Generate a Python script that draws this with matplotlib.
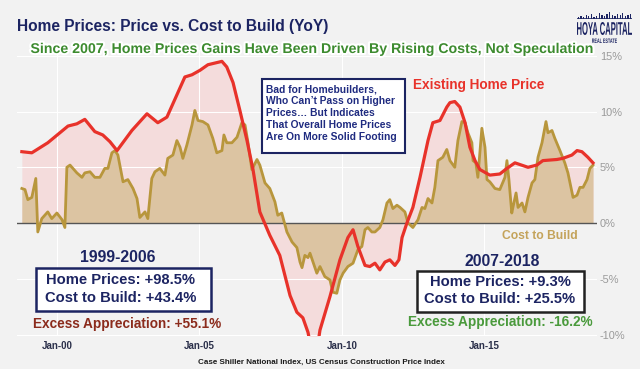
import matplotlib
matplotlib.use('Agg')
import matplotlib.pyplot as plt
import matplotlib.patheffects as pe
from matplotlib.patches import Rectangle, PathPatch
from matplotlib.textpath import TextPath
from matplotlib.font_manager import FontProperties
from matplotlib.transforms import Affine2D

# Case Shiller national index, YoY %
price_year = [1998.77, 1999.12, 1999.68, 2000.39, 2000.70, 2000.98, 2001.33, 2001.61, 2001.86,
              2002.11, 2002.63, 2003.16, 2003.54, 2003.86, 2004.49, 2004.74, 2005.02, 2005.30,
              2005.79, 2005.96, 2006.18, 2006.42, 2006.67, 2006.88, 2007.12, 2007.47, 2007.82,
              2008.18, 2008.42, 2008.63, 2008.81, 2008.98, 2009.10, 2009.23, 2009.58, 2009.93,
              2010.21, 2010.39, 2010.56, 2010.81, 2010.98, 2011.16, 2011.33, 2011.51, 2011.68,
              2011.86, 2012.00, 2012.11, 2012.28, 2012.49, 2012.74, 2013.02, 2013.19, 2013.44,
              2013.68, 2013.79, 2013.96, 2014.14, 2014.32, 2014.49, 2014.67, 2014.84, 2015.19,
              2015.54, 2015.79, 2016.07, 2016.53, 2016.84, 2017.05, 2017.54, 2017.75, 2018.07,
              2018.25, 2018.42, 2018.63, 2018.81]
price_yoy = [6.4, 6.3, 7.2, 8.7, 8.9, 9.3, 8.2, 7.9, 7.3,
             6.5, 8.3, 9.8, 9.0, 9.5, 13.1, 13.3, 13.7, 14.2,
             14.5, 14.0, 12.6, 10.1, 7.4, 4.8, 1.0, -1.1, -2.9,
             -6.5, -8.0, -8.5, -9.8, -12.0, -11.8, -9.6, -6.6, -3.3,
             -1.3, -0.6, -2.1, -3.8, -3.9, -3.6, -4.2, -3.5, -3.3,
             -3.8, -3.3, -1.3, 0.0, 1.4, 4.1, 7.4, 9.0, 9.2,
             10.4, 10.8, 10.9, 10.4, 9.0, 6.8, 5.6, 4.8, 4.3,
             4.4, 4.9, 5.4, 5.0, 5.2, 5.6, 5.7, 5.8, 6.1,
             6.5, 6.4, 5.9, 5.4]

# Census construction price index, YoY %
cost_year = [1998.77, 1998.88, 1998.98, 1999.12, 1999.26, 1999.33, 1999.47, 1999.68, 1999.82,
             2000.00, 2000.18, 2000.28, 2000.35, 2000.46, 2000.70, 2000.88, 2000.98, 2001.16,
             2001.33, 2001.51, 2001.68, 2001.79, 2001.93, 2002.04, 2002.14, 2002.32, 2002.49,
             2002.67, 2002.81, 2002.91, 2003.09, 2003.19, 2003.33, 2003.44, 2003.61, 2003.79,
             2003.89, 2004.07, 2004.21, 2004.32, 2004.42, 2004.56, 2004.74, 2004.84, 2004.95,
             2005.12, 2005.30, 2005.47, 2005.61, 2005.79, 2005.86, 2005.96, 2006.14, 2006.32,
             2006.49, 2006.60, 2006.70, 2006.84, 2007.02, 2007.12, 2007.30, 2007.47, 2007.65,
             2007.75, 2007.89, 2008.07, 2008.25, 2008.42, 2008.53, 2008.60, 2008.70, 2008.81,
             2008.88, 2009.12, 2009.23, 2009.40, 2009.58, 2009.68, 2009.82, 2009.93, 2010.04,
             2010.21, 2010.39, 2010.56, 2010.70, 2010.81, 2010.91, 2011.05, 2011.16, 2011.33,
             2011.44, 2011.58, 2011.68, 2011.79, 2011.93, 2012.04, 2012.21, 2012.32, 2012.49,
             2012.67, 2012.81, 2012.91, 2013.02, 2013.16, 2013.26, 2013.37, 2013.54, 2013.68,
             2013.79, 2013.96, 2014.07, 2014.21, 2014.32, 2014.42, 2014.56, 2014.60, 2014.70,
             2014.77, 2014.84, 2014.91, 2015.02, 2015.09, 2015.19, 2015.37, 2015.54, 2015.72,
             2015.79, 2015.86, 2015.96, 2016.00, 2016.11, 2016.18, 2016.32, 2016.42, 2016.53,
             2016.67, 2016.77, 2016.88, 2017.02, 2017.16, 2017.23, 2017.37, 2017.47, 2017.65,
             2017.82, 2017.93, 2018.11, 2018.25, 2018.35, 2018.46, 2018.60, 2018.70, 2018.81]
cost_yoy = [3.1, 3.0, 2.1, 2.3, 4.0, -0.8, 0.4, 1.0, 0.4,
            0.9, 0.3, -0.4, 5.0, 5.2, 4.5, 4.1, 4.5, 4.6,
            4.1, 4.1, 4.9, 4.9, 6.3, 6.5, 6.1, 3.7, 3.9,
            3.1, 2.2, 0.5, 1.0, 0.4, 4.0, 4.6, 4.9, 4.3,
            5.8, 6.1, 7.4, 6.8, 5.8, 7.0, 8.8, 10.1, 9.2,
            9.1, 8.8, 7.6, 6.3, 6.5, 7.9, 7.2, 7.2, 7.7,
            9.0, 8.8, 7.3, 4.8, 5.7, 5.2, 3.6, 3.1, 1.9,
            0.7, 0.9, -0.8, -1.7, -2.2, -3.5, -4.0, -2.9, -3.1,
            -2.7, -4.5, -3.9, -4.8, -5.1, -6.2, -6.3, -5.1, -4.5,
            -3.9, -3.6, -2.4, -2.1, -0.6, -0.4, -0.8, -0.8, -0.4,
            0.3, 1.8, 2.1, 1.3, 1.6, 1.4, 1.0, 0.0, -0.4,
            0.3, 1.4, 1.3, 2.2, 1.8, 3.2, 5.6, 5.9, 6.6,
            5.6, 5.0, 7.4, 9.1, 9.0, 8.1, 7.2, 5.6, 5.4,
            4.1, 6.3, 8.5, 6.8, 3.9, 3.7, 3.1, 3.0, 4.1,
            5.6, 3.9, 0.9, 1.4, 2.7, 1.4, 1.8, 1.0, 2.3,
            3.6, 3.9, 5.9, 7.2, 9.1, 8.1, 8.3, 7.6, 6.5,
            5.4, 4.5, 2.3, 2.5, 3.2, 3.2, 3.9, 4.9, 5.2]

xticks = [2000, 2005, 2010, 2015]
xtick_labels = ['Jan-00', 'Jan-05', 'Jan-10', 'Jan-15']
yticks = [-10, -5, 0, 5, 10, 15]
ytick_labels = ['-10%', '-5%', '0%', '5%', '10%', '15%']
skyline = [2, 3, 2, 4, 3, 5, 2, 3, 6, 4, 3, 5, 7, 4, 3, 5, 4, 6, 3, 4, 5]

bg = '#f2f2f2'
navy = '#1c2462'
red = '#e8322a'
gold = '#b8963c'
W, H = 640, 369

fig = plt.figure(figsize=(6.4, 3.69), dpi=100, facecolor=bg)
plt.rcParams['font.family'] = ['Liberation Sans', 'DejaVu Sans']


def px(x, y):
    return x / W, 1 - y / H


def squeezed_text(s, x0, y0, w, h, color):
    # text squeezed into a pixel box (x0, y0 = left, bottom in pixels from the top)
    tp = TextPath((0, 0), s, size=10, prop=FontProperties(family='Liberation Sans', weight='bold'))
    bb = tp.get_extents()
    tr = Affine2D().translate(-bb.x0, -bb.y0).scale(w / bb.width / W, h / bb.height / H)
    tr = tr.translate(x0 / W, 1 - y0 / H)
    fig.patches.append(PathPatch(tr.transform_path(tp), transform=fig.transFigure,
                                 facecolor=color, lw=0))


ax = fig.add_axes([17 / W, 1 - 336 / H, 580 / W, 286 / H], facecolor=bg)
ax.fill_between(price_year, price_yoy, 0, color='#f4dcdc', lw=0, zorder=1)
ax.fill_between(cost_year, cost_yoy, 0, color='#dcc4a2', lw=0, zorder=2)
ax.axhline(0, color='#555555', lw=1, zorder=3)
ax.plot(cost_year, cost_yoy, color=gold, lw=2.0, zorder=4, solid_joinstyle='round')
ax.plot(price_year, price_yoy, color=red, lw=2.3, zorder=5, solid_joinstyle='round')

ax.set_xlim(1998.60, 2018.95)
ax.set_ylim(-10.13, 15.52)
ax.set_xticks(xticks)
ax.set_xticklabels(xtick_labels, fontsize=7, fontweight='bold', color='#2a2f4a')
ax.set_yticks(yticks)
ax.set_yticklabels(ytick_labels, fontsize=7.9, color='#9a9a9a')
ax.yaxis.tick_right()
ax.tick_params(axis='x', length=0, pad=3.5)
ax.tick_params(axis='y', length=0, pad=2)
ax.grid(True, color='white', lw=0.8, zorder=0)
for s in ax.spines.values():
    s.set_visible(False)

# titles
fig.text(*px(17, 27), 'Home Prices: Price vs. Cost to Build (YoY)', fontsize=11.2,
         fontweight='bold', color=navy, ha='left', va='center')
fig.text(*px(311, 49), 'Since 2007, Home Prices Gains Have Been Driven By Rising Costs, Not Speculation',
         fontsize=10.2, fontweight='bold', color='#3d8b2f', ha='center', va='center',
         path_effects=[pe.withStroke(linewidth=3, foreground='white')])

# logo
lax = fig.add_axes([577 / W, 1 - 19 / H, 55 / W, 8 / H])
lax.bar(range(len(skyline)), skyline, width=0.5, color=navy)
lax.axhline(0, color=navy, lw=1.2)
lax.set_xlim(-0.5, len(skyline) - 0.5)
lax.set_ylim(0, 8)
lax.axis('off')
squeezed_text('HOYA CAPITAL', 577, 35, 55, 13, navy)
squeezed_text('REAL ESTATE', 592, 43, 25, 4.5, navy)

# note box
fig.patches.append(Rectangle(px(262, 153), 143 / W, 74 / H, transform=fig.transFigure,
                             facecolor='white', edgecolor=navy, lw=1.5, zorder=5))
fig.text(*px(266, 84), 'Bad for Homebuilders,\nWho Can\u2019t Pass on Higher\nPrices\u2026 But Indicates\n'
         'That Overall Home Prices\nAre On More Solid Footing', fontsize=7.4, fontweight='bold',
         color='#1f2b80', ha='left', va='top', linespacing=1.25, zorder=6)

fig.text(*px(413, 85), 'Existing Home Price', fontsize=9.8, fontweight='bold', color=red,
         ha='left', va='center')
fig.text(*px(502, 236), 'Cost to Build', fontsize=8.7, fontweight='bold', color='#c4a35a',
         ha='left', va='center')

# 1999-2006 summary
fig.text(*px(118, 258), '1999-2006', fontsize=11.3, fontweight='bold', color=navy, ha='center', va='center')
fig.patches.append(Rectangle(px(36, 311), 175 / W, 43 / H, transform=fig.transFigure,
                             facecolor='white', edgecolor=navy, lw=1.8, zorder=5))
fig.text(*px(121, 280), 'Home Prices: +98.5%', fontsize=10.6, fontweight='bold', color=navy,
         ha='center', va='center', zorder=6)
fig.text(*px(121, 298), 'Cost to Build: +43.4%', fontsize=10.6, fontweight='bold', color=navy,
         ha='center', va='center', zorder=6)
fig.text(*px(127, 324), 'Excess Appreciation: +55.1%', fontsize=9.8, fontweight='bold',
         color='#8b2b1c', ha='center', va='center')

# 2007-2018 summary
fig.text(*px(502, 261), '2007-2018', fontsize=11.3, fontweight='bold', color=navy, ha='center', va='center')
fig.patches.append(Rectangle(px(417, 312), 167 / W, 41 / H, transform=fig.transFigure,
                             facecolor='white', edgecolor='#222222', lw=1.8, zorder=5))
fig.text(*px(500, 282), 'Home Prices: +9.3%', fontsize=10.6, fontweight='bold', color=navy,
         ha='center', va='center', zorder=6)
fig.text(*px(500, 299), 'Cost to Build: +25.5%', fontsize=10.6, fontweight='bold', color=navy,
         ha='center', va='center', zorder=6)
fig.text(*px(500, 322), 'Excess Appreciation: -16.2%', fontsize=9.8, fontweight='bold',
         color='#4a9a3c', ha='center', va='center')

fig.text(*px(321, 362), 'Case Shiller National Index, US Census Construction Price Index',
         fontsize=5.8, fontweight='bold', color='#1a1a1a', ha='center', va='center')

fig.savefig('out.png', dpi=100, facecolor=bg)
